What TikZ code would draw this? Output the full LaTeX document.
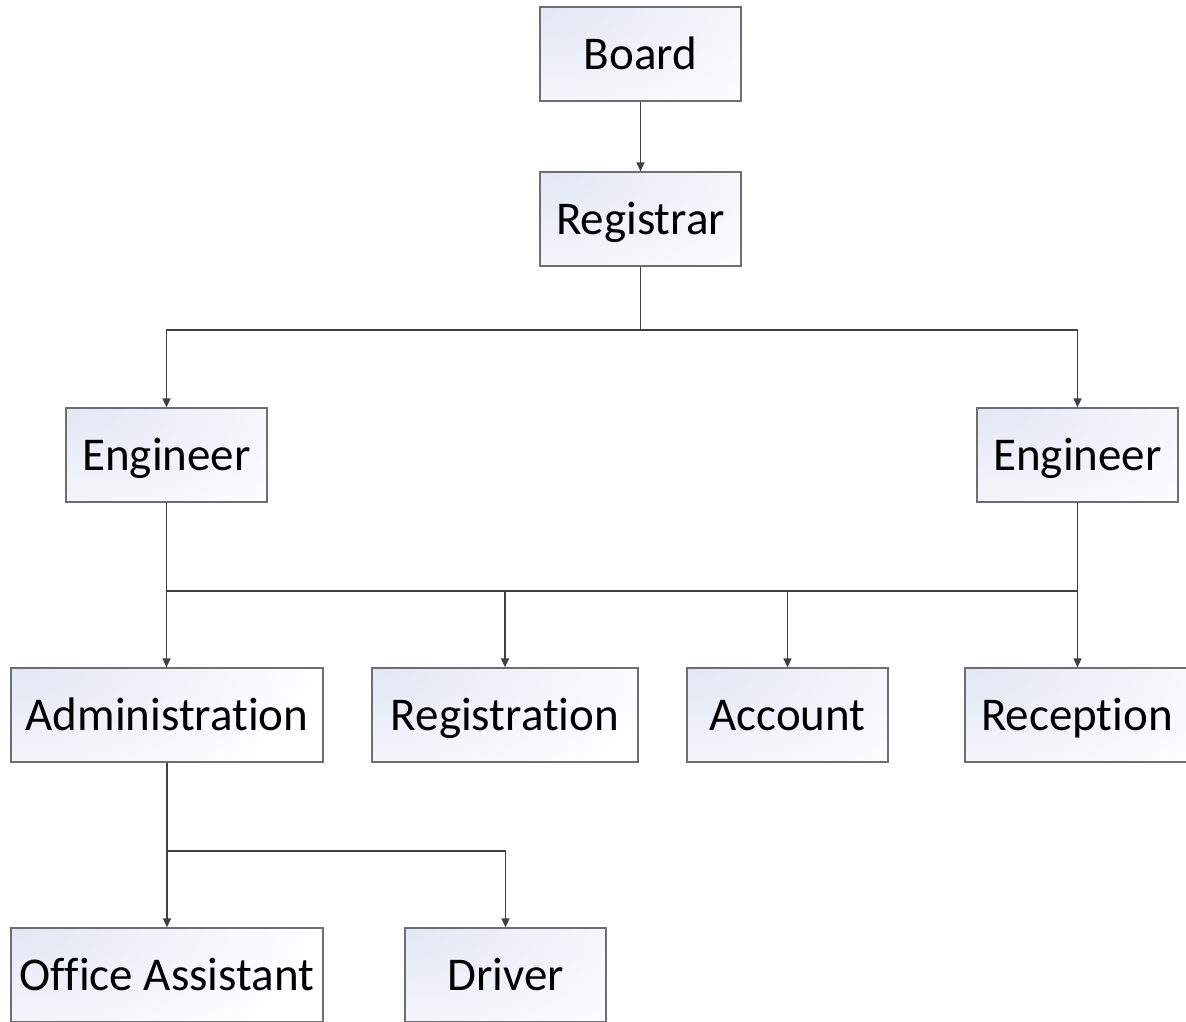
\documentclass[tikz,border=0pt]{standalone}
\usepackage{fontspec}
\setmainfont{Carlito}[Ligatures=NoCommon]
\usetikzlibrary{arrows.meta}
\definecolor{boxline}{HTML}{6E6E6E}
\definecolor{conn}{HTML}{404040}
\definecolor{tint}{HTML}{E2E7F5}
\tikzset{
  unit/.style={draw=boxline, line width=1.3pt, minimum height=94pt, inner sep=0pt,
    text height=38pt, text depth=8pt, fill=white,
    path picture={\shade[inner color=tint, outer color=white]
      (path picture bounding box.north west) ellipse [x radius=300pt, y radius=150pt];},
    font=\fontsize{47}{52}\selectfont, text=black},
  link/.style={draw=conn, line width=1.3pt, -{Triangle[length=9pt,width=8pt]}},
  bus/.style={draw=conn, line width=1.3pt}
}
\begin{document}
\begin{tikzpicture}[x=1pt,y=-1pt]
\clip (0,0) rectangle (1186,1021);
\fill[white] (0,0) rectangle (1186,1021);
\node[unit, minimum width=201pt] (board) at (640.5,54) {Board};
\node[unit, minimum width=201pt] (reg) at (640.5,219) {Registrar};
\node[unit, minimum width=201pt] (engl) at (166.5,455) {Engineer};
\node[unit, minimum width=201pt] (engr) at (1077.5,455) {Engineer};
\node[unit, minimum width=312pt] (admin) at (167,715) {Administration};
\node[unit, minimum width=266pt] (regn) at (505,715) {Registration};
\node[unit, minimum width=201pt] (acc) at (787.5,715) {Account};
\node[unit, minimum width=224pt] (rec) at (1077,715) {Reception};
\node[unit, minimum width=312pt] (office) at (167,975) {Office Assistant};
\node[unit, minimum width=201pt] (driver) at (505.5,975) {Driver};

\coordinate (b1) at (640.5,330);
\coordinate (b2l) at (166.5,591);
\coordinate (b2r) at (1077.5,591);
\coordinate (b3) at (167,851);

\draw[link] (board) -- (reg);
\draw[bus] (reg.south) -- (b1);
\draw[link] (b1) -| (engl.north);
\draw[link] (b1) -| (engr.north);
\draw[bus] (b2l) -- (b2r);
\draw[link] (engl.south) -- (engl.south |- admin.north);
\draw[link] (engr.south) -- (engr.south |- rec.north);
\draw[link] (regn.north |- b2l) -- (regn.north);
\draw[link] (acc.north |- b2l) -- (acc.north);
\draw[link] (admin.south) -- (office.north);
\draw[link] (b3) -| (driver.north);
\end{tikzpicture}
\end{document}
